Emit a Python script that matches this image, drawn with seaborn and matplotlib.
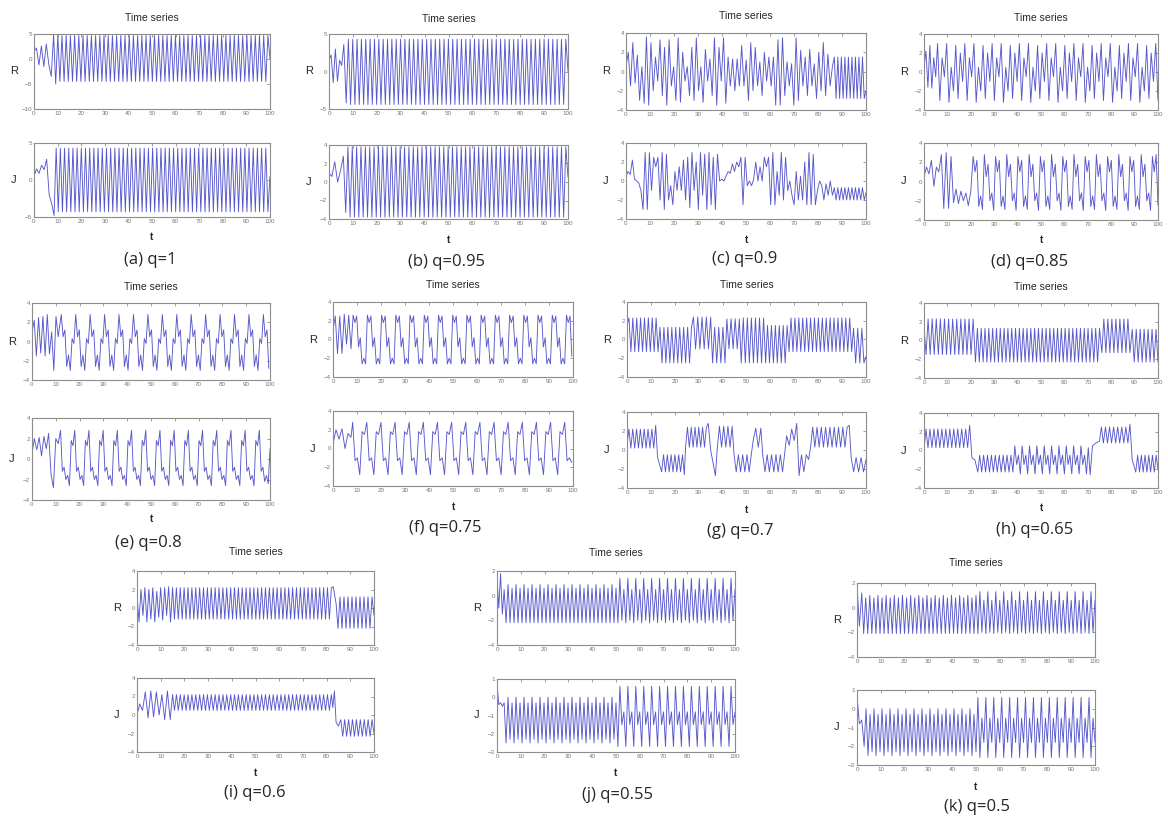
import numpy as np
import matplotlib
matplotlib.use("Agg")
import matplotlib.pyplot as plt
import seaborn as sns

# ---- data: extrema, as (t_start, t_end, values) segments ----
captions = ["(a) q=1", "(b) q=0.95", "(c) q=0.9", "(d) q=0.85", "(e) q=0.8", "(f) q=0.75",
            "(g) q=0.7", "(h) q=0.65", "(i) q=0.6", "(j) q=0.55", "(k) q=0.5"]

a_R = [(0, 7.3, [1.5, 2.2, -1.2, 2.6, -1.5, 3.0, -1.0, -3.5]),
       (8.3, 100, [4.8, -5.0] + [4.7, -4.5] * 50 + [4.7, 0.0])]
a_J = [(0, 7.5, [0.5, 1.5, 0.9, 2.0, 1.4, 2.8, -2.0, -3.2]),
       (8.5, 100, [-4.8, 4.3] + [-4.3, 4.3] * 50 + [-4.3, 0.5])]

b_R = [(0, 6.2, [1.5, 2.2, -1.5, 3.0, -1.3, 1.5, 0.8, 3.6]),
       (7.2, 100, [-4.2] + [4.3, -4.4] * 50 + [4.3, 0.0])]
b_J = [(0, 6.0, [1.0, 0.6, 2.2, 0.0, 1.2, 2.8]),
       (7.0, 100, [-3.3, 3.8] + [-3.8, 3.8] * 50 + [0.5])]

c_R = [(0, 86, [0.5, 2, -1.5, 3, -1.2, 1.7, -3, 0.5, -3.3, 3.6, -3.5, 3, -2, 1.5, -1, 3.3, -2.5, 2.5,
                -3.5, 3.3, -1.5, 0.5, -3, 3.5, -3.2, 2, -1, 0.5, -2.5, 2.5, -3, 3.5, -2, 0.5, -3.2, 2.3,
                -1, 1.3, -2.5, 3.5, -3.5, 2.5, -1, 3.5, -3.3, 1.5, -1.5, 1.3, -2, 1.3, -1.5, 2.7, -1.5,
                1.2, -3, 3, -2, 2.5, -1.5, 1, -2.5, 2, -1, 1.5, -1.5, 1.5, -3.5, 3.3, -3.5, 3.5, -2.5, 1,
                -1.5, 0.8, -3.5, 3.5, -3, 2.2, -1.5, 1.5, -2.5, 2.3, -1.5, 0.8, -2.8, 2, -2, 3, -2.5,
                1.8, -1.5, 0.5]),
       (86.8, 100, [1.5, -2.8] * 9 + [-2.0])]
c_J = [(0, 86, [0.5, 1, 0.7, 2.2, 0.2, 0, -0.2, -1, -3, 3, -3, 3, -1, 2.5, 1.5, 2.5, -2, 3, -3, 2.8, -2,
                -0.5, -2.5, 1, -1, 1.5, -1, 2.2, -2, 2.5, -2.8, 3, -1, 2, -3, 3, -1.5, 2.8, -3, 3, -2.5,
                2.5, -3, 2.8, 0, 0.2, 0, 0.5, 1, 0.8, 1.8, 1, 2, 1.5, 2.5, -2.5, 2.5, -0.5, 0, -0.5, 0.2,
                2, 0, 1.5, 0, 2.5, 1.5, 2.5, -2.5, 3, -2.5, 1, -1.5, 3, -2, 2.5, -1, 0, -1.5, -2.5, 1,
                -2, 0.5, -2, 2, -2.5, 3, -2.5, 2.8, -2.5, -1, 0, -0.5, -2, -0.3, -1.5, 0, -1.5]),
       (86.8, 100, [-0.7, -2.0] * 9 + [-1.2])]

d_R = [(0, 5, [0.5, 2.2, -1.6, 2.8, -1.7, 1.5, -0.5]),
       (5.8, 100, [3.0, -3.0, 1.5, -0.5, 3.0, -3.2, 0.5, -2.0, 2.8, -2.8, 2.0, -1.0] * 8 + [3.0, -3.0])]
d_J = [(0, 9.5, [0.5, 1.5, 0.8, 2.2, -0.5, 1.5, 1.0, 2.8, -2.8, 3.0]),
       (10.5, 20, [-2.8, 2.6, -2.2, -0.8, -2.3, -1.0, -2.0, -1.2, -2.5, -1.0]),
       (21, 100, [2.6, 1.0, 2.2, -2.6, -1.5, -2.9, 2.8, 0.5, 1.8, -2.0, -1.2, -3.0] * 8 + [2.6, 1.0, 2.8, -2.5])]

e_R = [(0, 11, [1.0, 2.2, -1.5, 2.5, -1.2, 2.6, -1.5, 2.8, -1.3, 1.0, -3.0, 2.6, 0.5]),
       (12.3, 99.5, [2.8, 0.5, 1.2, -2.6, -1.4, -3.0, 0.3, -0.2] * 14 + [2.8, 0.5, 1.2, -2.8])]
e_J = [(0, 11, [0.5, 2.0, 0.9, 2.1, 0.3, 2.2, 1.0, 2.5, -1.5, -2.8, 2.0, 1.5]),
       (12, 100, [2.8, -1.2, -0.8, -2.0, -1.6, -2.6, 1.8, 1.3] * 14 + [2.8, -1.2, -0.8, -2.2, -1.6, -2.4, 1.0])]

f_R = [(0, 7.5, [1.0, 2.5, -1.5, 2.5, -1.5, 2.7, -0.5, 2.6, -1.0]),
       (8.4, 99.5, [2.6, 1.8, 2.5, -0.8, 0.2, -2.6, -2.0, -2.6] * 15 + [2.6, 1.8, 2.5, -1.8])]
f_J = [(0, 7.5, [0.5, 2.0, 1.0, 2.1, 0.0, 1.6, 1.2]),
       (8.2, 99.5, [2.8, -1.3, -1.0, -2.8, 1.8, 1.5] * 15 + [2.8, -1.3, -1.0, -1.5])]

g_R = [(0, 13, [1.5] + [2.3, -1.3] * 8),
       (13.8, 27, [1.3, -2.5] * 8 + [1.3]),
       (27.8, 35, [2.4, -1.0] * 4 + [2.4]),
       (35.8, 41, [-2.5, 1.3] * 3 + [-2.5]),
       (41.8, 47, [2.2, -1.0] * 3 + [2.2]),
       (47.8, 58, [-2.5, 2.3] * 6 + [-2.5]),
       (58.8, 67, [1.5, -2.5] * 5 + [1.5]),
       (67.8, 94, [-1.3, 2.3] * 16 + [-1.3]),
       (94.8, 100, [1.2, -2.5] * 3 + [-1.8])]
g_J = [(0, 12, [0.5] + [2.2, 0.2] * 7 + [2.6]),
       (12.8, 14, [-0.8]),
       (14.5, 24, [-2.3, -0.5] * 6 + [-2.6]),
       (24.5, 34, [0.3, 2.4] * 6 + [2.8]),
       (35, 37, [0.0, -2.7]),
       (37.8, 44, [0.3, 2.5] * 4),
       (44.8, 52, [-0.5, -2.3] * 4 + [-0.5]),
       (52.8, 56, [1.0, 2.3, 0.3, 2.3]),
       (56.8, 66, [-0.5, -2.3] * 5 + [-0.3]),
       (66.8, 71, [1.5, 0.5, 2.2, 1.0, 2.8]),
       (72, 76, [-2.7, -0.5, -2.3, -0.5, -1.0]),
       (76.8, 93, [0.3, 2.4] * 9 + [2.6]),
       (93.8, 100, [-0.8, -2.3] * 3 + [-1.0])]

h_R = [(0, 21, [1.5] + [-1.5, 2.3] * 12),
       (22, 75, [-2.3, 1.3] * 33),
       (76, 88, [-1.3, 2.3] * 7 + [-1.3]),
       (89, 100, [1.2, -2.3] * 7)]
h_J = [(0, 19.5, [0.0] + [2.3, 0.3] * 11 + [2.7]),
       (20.5, 23, [-0.8, -1.0, -2.3]),
       (23.8, 38, [-0.5, -2.3] * 9),
       (38.8, 71, [0.5, -1.5, -0.5, -2.5] * 10 + [0.3, -2.6]),
       (72, 75, [0.5, 0.8, 1.0]),
       (75.8, 88, [2.5, 0.8] * 7 + [2.8]),
       (89, 90, [-1.0]),
       (90.5, 100, [-2.3, -0.5] * 6 + [-2.0])]

i_R = [(0, 15, [1.5, -1.5, 2.0, -0.8, 2.2, -1.5, 2.0, -1.2, 2.2, -1.5, 1.8, -1.0, 2.2, -1.3, 2.2,
                -0.8, 2.3, -1.5, 2.2]),
       (15.8, 82, [-1.2, 2.2] * 41),
       (82.8, 84, [2.3, 0.5]),
       (84.8, 100, [-2.2, 1.2] * 9 + [-0.8])]
i_J = [(0, 14, [0.0, 1.2, 0.5, 2.5, -0.3, 2.6, -0.2, 2.5, 0.0, 2.2, -0.5, 2.6, -0.5]),
       (15, 82, [2.2, 0.5] * 41 + [2.2]),
       (82.6, 83.3, [0.8, 2.6]),
       (84, 86, [-0.8, -1.2, -0.5]),
       (86.8, 100, [-2.3, -0.5] * 8 + [-2.0])]

j_R = [(0, 3, [1.5, -1.0, 1.8, -1.5, 0.5]),
       (3.8, 50, [-2.2, 0.9, -2.2, 0.6] * 14),
       (50.8, 100, [-2.2, 1.4, -2.0, 0.5] * 15)]
j_J = [(0, 3, [0.7, -0.4, -0.3, -0.5, -0.3]),
       (3.8, 50, [-2.5, 0.0, -2.3, -0.3] * 14),
       (50.8, 100, [-2.7, 0.6, -1.5, -0.8] * 15)]

k_R = [(0, 2, [1.8, -1.5, 1.2]),
       (2.8, 50, [-2.1, 0.8, -2.1, 1.0] * 14),
       (50.8, 100, [-2.1, 1.3, -2.0, 0.6] * 15)]
k_J = [(0, 3, [0.7, -0.8, -0.6, -2.0]),
       (3.8, 50, [0.0, -2.5, -0.3, -2.3] * 14),
       (50.8, 100, [0.6, -2.6, -0.5, -1.8] * 15)]

R_series = [a_R, b_R, c_R, d_R, e_R, f_R, g_R, h_R, i_R, j_R, k_R]
J_series = [a_J, b_J, c_J, d_J, e_J, f_J, g_J, h_J, i_J, j_J, k_J]

R_lims = [(-10, 5), (-5, 5)] + [(-4, 4)] * 7 + [(-4, 2), (-4, 2)]
R_ticks = [[-10, -5, 0, 5], [-5, 0, 5]] + [[-4, -2, 0, 2, 4]] * 7 + [[-4, -2, 0, 2]] * 2
J_lims = [(-5, 5)] + [(-4, 4)] * 8 + [(-3, 1), (-3, 1)]
J_ticks = [[-5, 0, 5]] + [[-4, -2, 0, 2, 4]] * 8 + [[-3, -2, -1, 0, 1]] * 2

# ---- layout in pixels: R box, J box (left, top, right, bottom), title y, t y, caption (x, y) ----
W, H = 1168, 819
layout = [
    ((34, 34, 270, 109), (34, 143, 270, 217), 18, 237, (150, 260)),
    ((329, 34, 568, 109), (329, 145, 568, 219), 19, 240, (447, 262)),
    ((626, 33, 866, 110), (626, 143, 866, 219), 16, 240, (745, 259)),
    ((924, 34, 1158, 110), (924, 143, 1158, 220), 18, 240, (1030, 262)),
    ((32, 303, 270, 380), (32, 418, 270, 500), 287, 519, (148, 543)),
    ((333, 302, 573, 377), (333, 411, 573, 486), 285, 507, (445, 528)),
    ((627, 302, 866, 377), (627, 412, 866, 488), 285, 510, (740, 531)),
    ((924, 303, 1158, 378), (924, 413, 1158, 488), 287, 508, (1035, 530)),
    ((137, 571, 374, 645), (137, 678, 374, 752), 552, 773, (255, 793)),
    ((497, 571, 735, 645), (497, 679, 735, 752), 553, 773, (617, 795)),
    ((857, 583, 1095, 657), (857, 690, 1095, 765), 563, 787, (977, 807)),
]

line_color = "#3a3ac4"

sns.set_style("white")
plt.rcParams["font.family"] = ["Liberation Sans", "DejaVu Sans"]

fig = plt.figure(figsize=(W / 100, H / 100), dpi=100)


def build(segs):
    ts, vs = [], []
    for t0, t1, vals in segs:
        ts.extend(np.linspace(t0, t1, len(vals)))
        vs.extend(vals)
    return np.array(ts), np.array(vs)


def px_axes(box):
    l, t, r, b = box
    return fig.add_axes([l / W, 1 - b / H, (r - l) / W, (b - t) / H])


def style(ax, lims, ticks):
    ax.set_xlim(0, 100)
    ax.set_ylim(*lims)
    ax.set_xticks(range(0, 101, 10))
    ax.set_yticks(ticks)
    ax.set_xlabel("")
    ax.set_ylabel("")
    ax.tick_params(direction="in", length=2, width=0.5, labelsize=4.5, colors="#777777",
                   top=True, right=True, pad=1.5)
    for sp in ax.spines.values():
        sp.set_color("#8c8c8c")
        sp.set_linewidth(0.8)


for i in range(11):
    rbox, jbox, ty, tty, (cx, cy) = layout[i]
    for box, segs, lims, ticks, name in [(rbox, R_series[i], R_lims[i], R_ticks[i], "R"),
                                         (jbox, J_series[i], J_lims[i], J_ticks[i], "J")]:
        ax = px_axes(box)
        t, v = build(segs)
        sns.lineplot(x=t, y=v, ax=ax, color=line_color, lw=0.65, alpha=0.85,
                     estimator=None, sort=False)
        style(ax, lims, ticks)
        fig.text((box[0] - 20) / W, 1 - ((box[1] + box[3]) / 2) / H, name,
                 fontsize=8, ha="center", va="center")
    midx = (rbox[0] + rbox[2]) / 2
    fig.text(midx / W, 1 - ty / H, "Time series", fontsize=7.5, ha="center", va="center")
    fig.text(midx / W, 1 - tty / H, "t", fontsize=7, ha="center", va="center", fontweight="bold")
    fig.text(cx / W, 1 - cy / H, captions[i], fontsize=12, ha="center", va="center",
             family=["Open Sans", "DejaVu Sans"])

fig.savefig("out.png", dpi=100, facecolor="white")
